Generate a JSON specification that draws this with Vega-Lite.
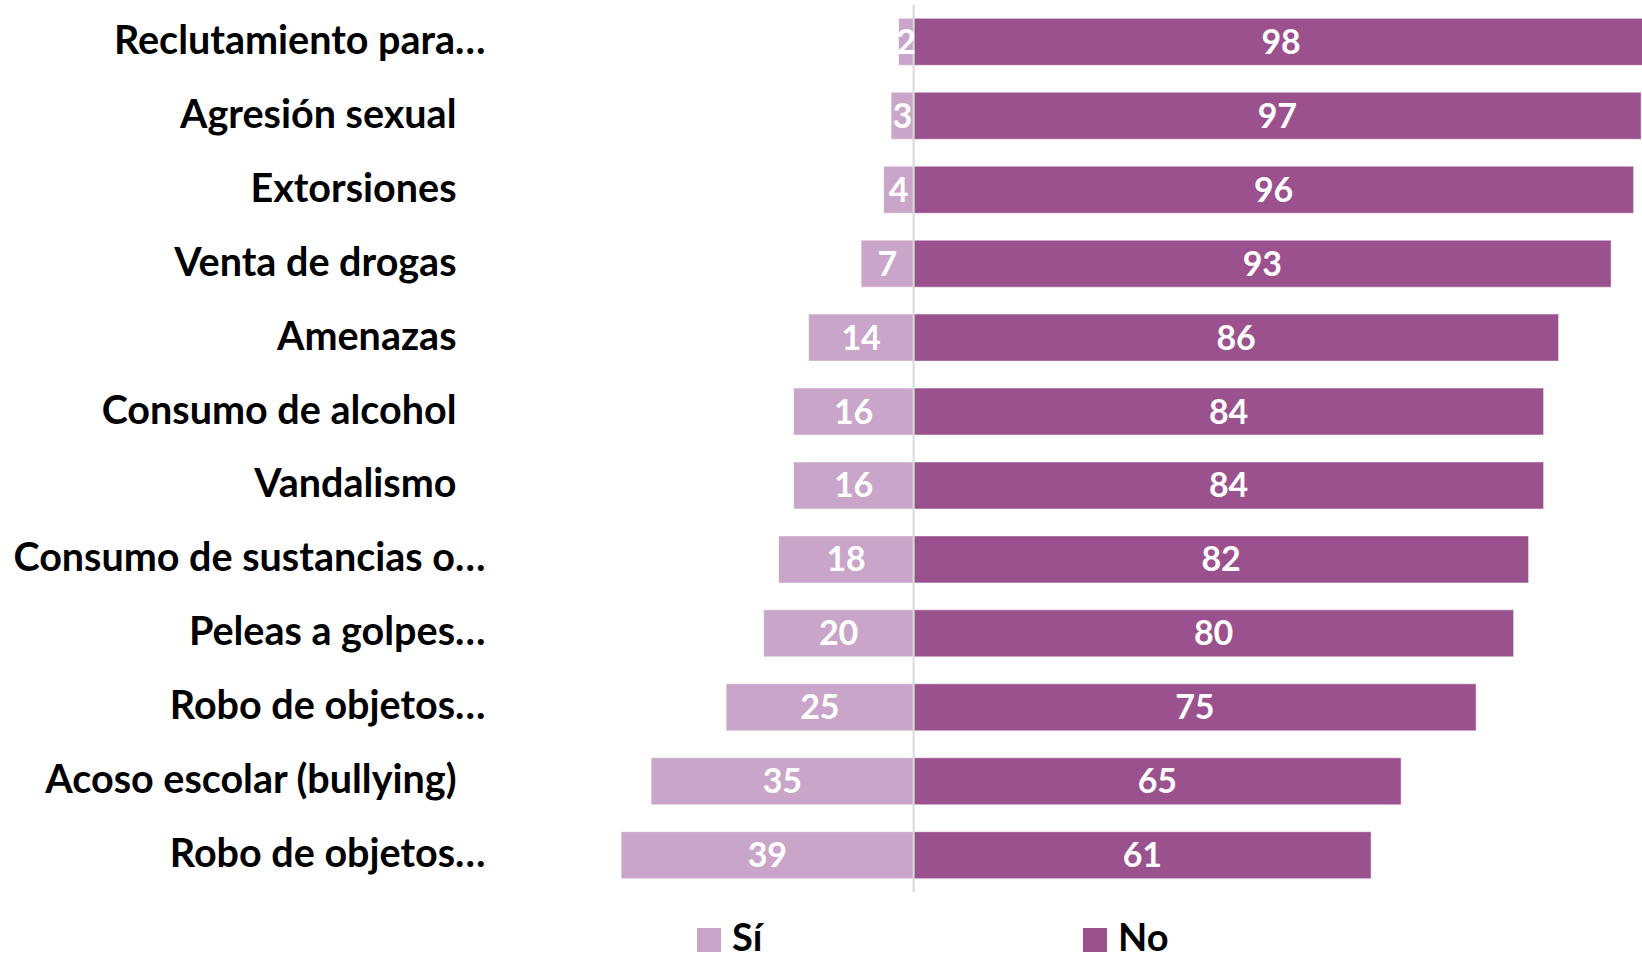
{
  "$schema": "https://vega.github.io/schema/vega-lite/v6.json",
  "width": 1142,
  "height": 887,
  "autosize": {"type": "none"},
  "padding": {"left": 500, "top": 5, "right": 0, "bottom": 68},
  "background": "#ffffff",
  "config": {"view": {"stroke": null}, "font": "Lato"},
  "data": {
    "values": [
      {"categoria": "Reclutamiento para…", "respuesta": "Sí", "valor": 2},
      {"categoria": "Reclutamiento para…", "respuesta": "No", "valor": 98},
      {"categoria": "Agresión sexual", "respuesta": "Sí", "valor": 3},
      {"categoria": "Agresión sexual", "respuesta": "No", "valor": 97},
      {"categoria": "Extorsiones", "respuesta": "Sí", "valor": 4},
      {"categoria": "Extorsiones", "respuesta": "No", "valor": 96},
      {"categoria": "Venta de drogas", "respuesta": "Sí", "valor": 7},
      {"categoria": "Venta de drogas", "respuesta": "No", "valor": 93},
      {"categoria": "Amenazas", "respuesta": "Sí", "valor": 14},
      {"categoria": "Amenazas", "respuesta": "No", "valor": 86},
      {"categoria": "Consumo de alcohol", "respuesta": "Sí", "valor": 16},
      {"categoria": "Consumo de alcohol", "respuesta": "No", "valor": 84},
      {"categoria": "Vandalismo", "respuesta": "Sí", "valor": 16},
      {"categoria": "Vandalismo", "respuesta": "No", "valor": 84},
      {"categoria": "Consumo de sustancias o…", "respuesta": "Sí", "valor": 18},
      {"categoria": "Consumo de sustancias o…", "respuesta": "No", "valor": 82},
      {"categoria": "Peleas a golpes…", "respuesta": "Sí", "valor": 20},
      {"categoria": "Peleas a golpes…", "respuesta": "No", "valor": 80},
      {"categoria": "Robo de objetos… ", "respuesta": "Sí", "valor": 25},
      {"categoria": "Robo de objetos… ", "respuesta": "No", "valor": 75},
      {"categoria": "Acoso escolar (bullying)", "respuesta": "Sí", "valor": 35},
      {"categoria": "Acoso escolar (bullying)", "respuesta": "No", "valor": 65},
      {"categoria": "Robo de objetos…", "respuesta": "Sí", "valor": 39},
      {"categoria": "Robo de objetos…", "respuesta": "No", "valor": 61}
    ]
  },
  "transform": [
    {"calculate": "datum.respuesta === 'Sí' ? -datum.valor : datum.valor", "as": "pos"},
    {"calculate": "datum.pos / 2", "as": "mid"}
  ],
  "layer": [
    {
      "mark": {"type": "bar", "clip": true, "stroke": "#ffffff", "strokeWidth": 0.5},
      "encoding": {
        "y": {
          "field": "categoria",
          "type": "nominal",
          "sort": ["Reclutamiento para…", "Agresión sexual", "Extorsiones", "Venta de drogas", "Amenazas", "Consumo de alcohol", "Vandalismo", "Consumo de sustancias o…", "Peleas a golpes…", "Robo de objetos… ", "Acoso escolar (bullying)", "Robo de objetos…"],
          "scale": {"paddingInner": 0.364, "paddingOuter": 0.18},
          "axis": {
            "title": null,
            "domain": false,
            "ticks": false,
            "labelFont": "Lato",
            "labelFontWeight": "bold",
            "labelFontSize": 39.5,
            "labelColor": "#000000",
            "labelPadding": {"condition": {"test": "indexof(datum.value, '…') >= 0", "value": 15}, "value": 44},
            "labelLimit": 700
          }
        },
        "x": {
          "field": "pos",
          "type": "quantitative",
          "scale": {"domain": [-55.15, 97.12], "nice": false, "zero": false},
          "axis": null
        },
        "color": {
          "field": "respuesta",
          "type": "nominal",
          "scale": {"domain": ["Sí", "No"], "range": ["#C9A6C9", "#9B518D"]},
          "legend": {
            "title": null,
            "orient": "none",
            "legendX": 190,
            "legendY": 916,
            "direction": "horizontal",
            "symbolType": "square",
            "symbolSize": 576,
            "symbolStrokeWidth": 0,
            "labelFont": "Lato",
            "labelFontWeight": "bold",
            "labelFontSize": 38,
            "labelColor": "#000000",
            "labelOffset": 4,
            "columnPadding": 313
          }
        }
      }
    },
    {
      "mark": {"type": "rule", "color": "#D9D9D9", "strokeWidth": 2},
      "data": {"values": [{"zero": 0}]},
      "encoding": {
        "x": {"field": "zero", "type": "quantitative"}
      }
    },
    {
      "mark": {"type": "text", "color": "#ffffff", "font": "Lato", "fontWeight": "bold", "fontSize": 34, "baseline": "middle", "dy": 2},
      "encoding": {
        "y": {
          "field": "categoria",
          "type": "nominal",
          "sort": ["Reclutamiento para…", "Agresión sexual", "Extorsiones", "Venta de drogas", "Amenazas", "Consumo de alcohol", "Vandalismo", "Consumo de sustancias o…", "Peleas a golpes…", "Robo de objetos… ", "Acoso escolar (bullying)", "Robo de objetos…"]
        },
        "x": {"field": "mid", "type": "quantitative"},
        "text": {"field": "valor", "type": "quantitative"}
      }
    }
  ]
}
